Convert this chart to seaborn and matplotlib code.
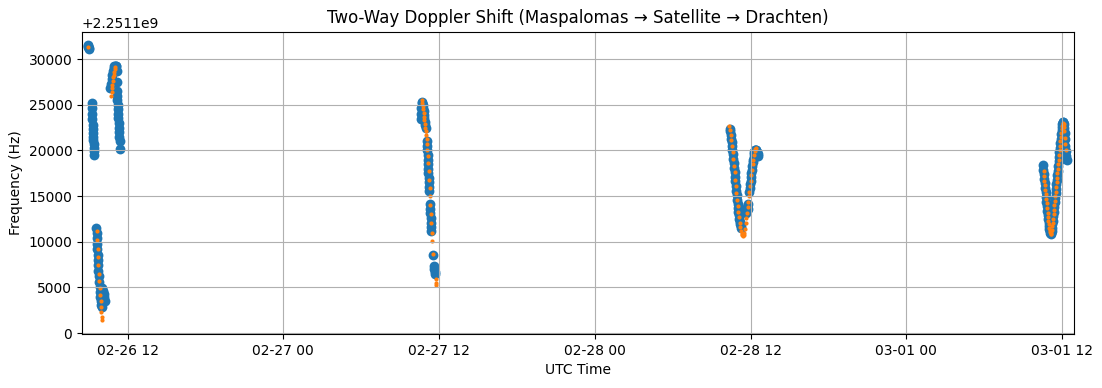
#importing the necessary libraries
import numpy as np
import pandas as pd
import matplotlib
matplotlib.use("Agg")
import matplotlib.pyplot as plt
import matplotlib.dates as mdates
import seaborn as sns

#carrier the frequencies are measured around (Hz)
base_freq = 2.2511e9

#pass dates
pass_dates = ["2025-02-26", "2025-02-27", "2025-02-28", "2025-03-01"]

#measured doppler (blue), offsets from base_freq in Hz
meas1_t = ["08:55", "08:57", "08:59", "09:01", "09:03",
           "09:14", "09:15", "09:16", "09:17", "09:18", "09:19", "09:20", "09:21", "09:22", "09:23", "09:24", "09:25", "09:26",
           "09:36", "09:37", "09:38", "09:39", "09:40", "09:41", "09:42", "09:43", "09:44", "09:46", "09:48", "09:50", "09:52",
           "09:54", "09:56", "09:58", "10:00",
           "10:03", "10:06", "10:09", "10:12", "10:15",
           "10:40", "10:43", "10:46", "10:49", "10:52", "10:55", "10:58", "11:01", "11:04", "11:07",
           "11:09", "11:10", "11:11", "11:12", "11:13", "11:14", "11:15", "11:16", "11:17", "11:18", "11:19", "11:20",
           "11:22", "11:24", "11:26"]
meas1_f = [31500, 31400, 31300, 31200, 31100,
           25200, 24600, 24000, 23400, 22800, 22300, 21900, 21500, 21100, 20700, 20300, 19900, 19500,
           11500, 11000, 10400, 9800, 9200, 8600, 8000, 7400, 6800, 6200, 5600, 5000, 4500,
           4000, 3500, 3100, 2800,
           4900, 4600, 4300, 3900, 3500,
           26800, 27300, 27800, 28300, 28700, 29000, 29200, 29300, 29300, 29200,
           28700, 27500, 26500, 26000, 25500, 25000, 24500, 24000, 23500, 23000, 22500, 22000,
           21500, 21000, 20200]

meas2_t = ["10:36", "10:37", "10:38", "10:40", "10:42", "10:44", "10:46", "10:48", "10:50", "10:52", "10:54", "10:56", "10:58",
           "11:04", "11:05", "11:06", "11:07", "11:08", "11:09", "11:10", "11:11", "11:12", "11:13", "11:14", "11:15",
           "11:18", "11:19", "11:20", "11:21", "11:22", "11:23", "11:24",
           "11:32", "11:37", "11:38", "11:39", "11:40"]
meas2_f = [24600, 24000, 23400, 25300, 25200, 25000, 24700, 24300, 23900, 23500, 23100, 22800, 22500,
           21000, 20500, 20000, 19500, 19000, 18500, 18000, 17500, 17000, 16500, 16000, 15600,
           14100, 13600, 13100, 12600, 12100, 11600, 11200,
           8600, 7300, 7000, 6700, 6500]

meas3_t = ["10:24", "10:26", "10:28", "10:30", "10:32", "10:34", "10:36", "10:38", "10:40", "10:42", "10:44", "10:46",
           "10:48", "10:50", "10:52", "10:54", "10:56", "10:58", "11:00", "11:02", "11:04", "11:06", "11:08", "11:10",
           "11:12", "11:14", "11:16",
           "11:40", "11:42", "11:44", "11:46", "11:48",
           "11:54", "11:56", "11:58", "12:00", "12:02", "12:04", "12:06", "12:08", "12:10", "12:12", "12:14", "12:16",
           "12:18", "12:20", "12:22", "12:24", "12:27", "12:30", "12:33", "12:36"]
meas3_f = [22400, 22100, 21700, 21300, 20900, 20500, 20100, 19600, 19100, 18600, 18100, 17600,
           17100, 16600, 16100, 15600, 15100, 14600, 14100, 13700, 13300, 12900, 12500, 12200,
           11900, 11700, 11500,
           13200, 13500, 13800, 14100, 13600,
           15500, 15900, 16300, 16700, 17100, 17500, 17900, 18300, 18700, 19000, 19300, 19600,
           19800, 20000, 20100, 20100, 20000, 19800, 19600, 19400]

meas4_t = ["10:32", "10:34", "10:36", "10:38", "10:40", "10:42", "10:44", "10:46", "10:48", "10:50", "10:52", "10:54",
           "10:56", "10:58", "11:00", "11:02", "11:04", "11:06", "11:08", "11:10", "11:12", "11:14", "11:16", "11:18",
           "11:20", "11:22", "11:24", "11:26", "11:28", "11:30", "11:32", "11:34", "11:36", "11:38", "11:40", "11:42",
           "11:44", "11:46", "11:48", "11:50", "11:52", "11:54", "11:56", "11:58", "12:00", "12:02", "12:04", "12:06",
           "12:08", "12:10", "12:12", "12:14", "12:16", "12:18", "12:20", "12:22"]
meas4_f = [18400, 17900, 17400, 16900, 16400, 15900, 15400, 14900, 14400, 13900, 13400, 12900,
           12500, 12100, 11700, 11400, 11200, 11000, 10900, 11000, 11200, 11500, 11900, 12300,
           12800, 13300, 13800, 14300, 14800, 15300, 15800, 16300, 16800, 17300, 17800, 18300,
           18800, 19300, 19800, 20300, 20800, 21300, 21800, 22200, 22600, 22900, 23100, 23100,
           22900, 22500, 21900, 21200, 20500, 19900, 19400, 19000]

#predicted doppler (orange)
pred1_t = ["08:57",
           "09:37", "09:39", "09:41", "09:43", "09:45", "09:47", "09:49", "09:51", "09:53", "09:55", "09:57",
           "09:59", "10:01", "10:03",
           "10:44", "10:46", "10:48", "10:50", "10:52", "10:54", "10:56", "10:58", "11:00", "11:02"]
pred1_f = [31300,
           11200, 10200, 9200, 8300, 7400, 6500, 5700, 4900, 4200, 3500, 2900,
           2300, 1800, 1400,
           26000, 26400, 26800, 27200, 27600, 28000, 28300, 28600, 28900, 29100]

pred2_t = ["10:40", "10:42", "10:44", "10:46", "10:48", "10:50", "10:52", "10:54", "10:56", "10:58", "11:00", "11:02",
           "11:04", "11:06", "11:08", "11:10", "11:12", "11:14", "11:16", "11:18", "11:20", "11:22", "11:24", "11:26",
           "11:28", "11:32", "11:44", "11:46", "11:47"]
pred2_f = [25500, 25200, 24900, 24500, 24100, 23700, 23300, 22900, 22500, 22100, 21700, 21200,
           20700, 20100, 19400, 18600, 17700, 16800, 15900, 15000, 14000, 13000, 12000, 11000,
           10100, 8700, 5900, 5500, 5300]

pred3_t = ["10:22", "10:25", "10:28", "10:31", "10:34", "10:37", "10:40", "10:43", "10:46", "10:49", "10:52", "10:55",
           "10:58", "11:01", "11:04", "11:07", "11:10", "11:13", "11:16", "11:19", "11:22", "11:25", "11:28", "11:31",
           "11:34", "11:37", "11:40", "11:43", "11:46", "11:49", "11:52", "11:55", "11:58", "12:01", "12:04", "12:07",
           "12:10", "12:13", "12:16", "12:19", "12:22", "12:25"]
pred3_f = [22700, 22200, 21700, 21100, 20500, 19800, 19100, 18300, 17600, 16800, 16100, 15300,
           14600, 13900, 13300, 12700, 12100, 11600, 11200, 10900, 10700, 10600, 10700, 11000,
           11400, 12000, 12600, 13200, 13800, 14400, 15000, 15500, 16100, 16700, 17300, 17900,
           18500, 19000, 19500, 19900, 20200, 20300]

pred4_t = ["10:35", "10:37", "10:39", "10:41", "10:43", "10:45", "10:47", "10:49", "10:51", "10:53", "10:55", "10:57",
           "10:59", "11:01", "11:03", "11:05", "11:07", "11:09", "11:11", "11:13", "11:15", "11:17", "11:19", "11:21",
           "11:23", "11:25", "11:27", "11:29", "11:31", "11:33", "11:35", "11:37", "11:39", "11:41", "11:43", "11:45",
           "11:47", "11:49", "11:51", "11:53", "11:55", "11:57", "11:59", "12:01", "12:03", "12:05", "12:07", "12:09",
           "12:11", "12:13", "12:15", "12:17"]
pred4_f = [17700, 17200, 16700, 16200, 15700, 15200, 14700, 14200, 13700, 13200, 12700, 12300,
           11900, 11500, 11300, 11100, 10900, 10900, 11100, 11300, 11700, 12100, 12500, 13000,
           13500, 14000, 14500, 15000, 15500, 16000, 16500, 17000, 17500, 18000, 18500, 19000,
           19500, 20000, 20500, 21000, 21500, 21900, 22300, 22700, 22900, 23000, 22900, 22600,
           22100, 21400, 20700, 20100]


def build(times, freqs):
    #join every pass into one table with real timestamps
    frames = []
    for day, t, f in zip(pass_dates, times, freqs):
        frames.append(pd.DataFrame({"time": pd.to_datetime([day + " " + x for x in t]),
                                    "freq": base_freq + np.array(f, dtype=float)}))
    return pd.concat(frames, ignore_index=True)


measured = build([meas1_t, meas2_t, meas3_t, meas4_t], [meas1_f, meas2_f, meas3_f, meas4_f])
predicted = build([pred1_t, pred2_t, pred3_t, pred4_t], [pred1_f, pred2_f, pred3_f, pred4_f])

fig, ax = plt.subplots(figsize=(11.02, 3.88), dpi=100)
fig.subplots_adjust(left=0.0744, right=0.9749, top=0.9183, bottom=0.1392)

sns.scatterplot(data=measured, x="time", y="freq", color="#1f77b4", s=50, linewidth=0, ax=ax)
sns.scatterplot(data=predicted, x="time", y="freq", color="#ff7f0e", s=9, linewidth=0, ax=ax)

ax.set_xlim(pd.Timestamp("2025-02-26 08:29"), pd.Timestamp("2025-03-01 12:57"))
ax.xaxis.set_major_locator(mdates.HourLocator(byhour=[0, 12]))
ax.xaxis.set_major_formatter(mdates.DateFormatter("%m-%d %H"))

ax.set_title("Two-Way Doppler Shift (Maspalomas \u2192 Satellite \u2192 Drachten)")
ax.set_xlabel("UTC Time")
ax.set_ylabel("Frequency (Hz)")
ax.grid(True)

plt.savefig("out.png")
